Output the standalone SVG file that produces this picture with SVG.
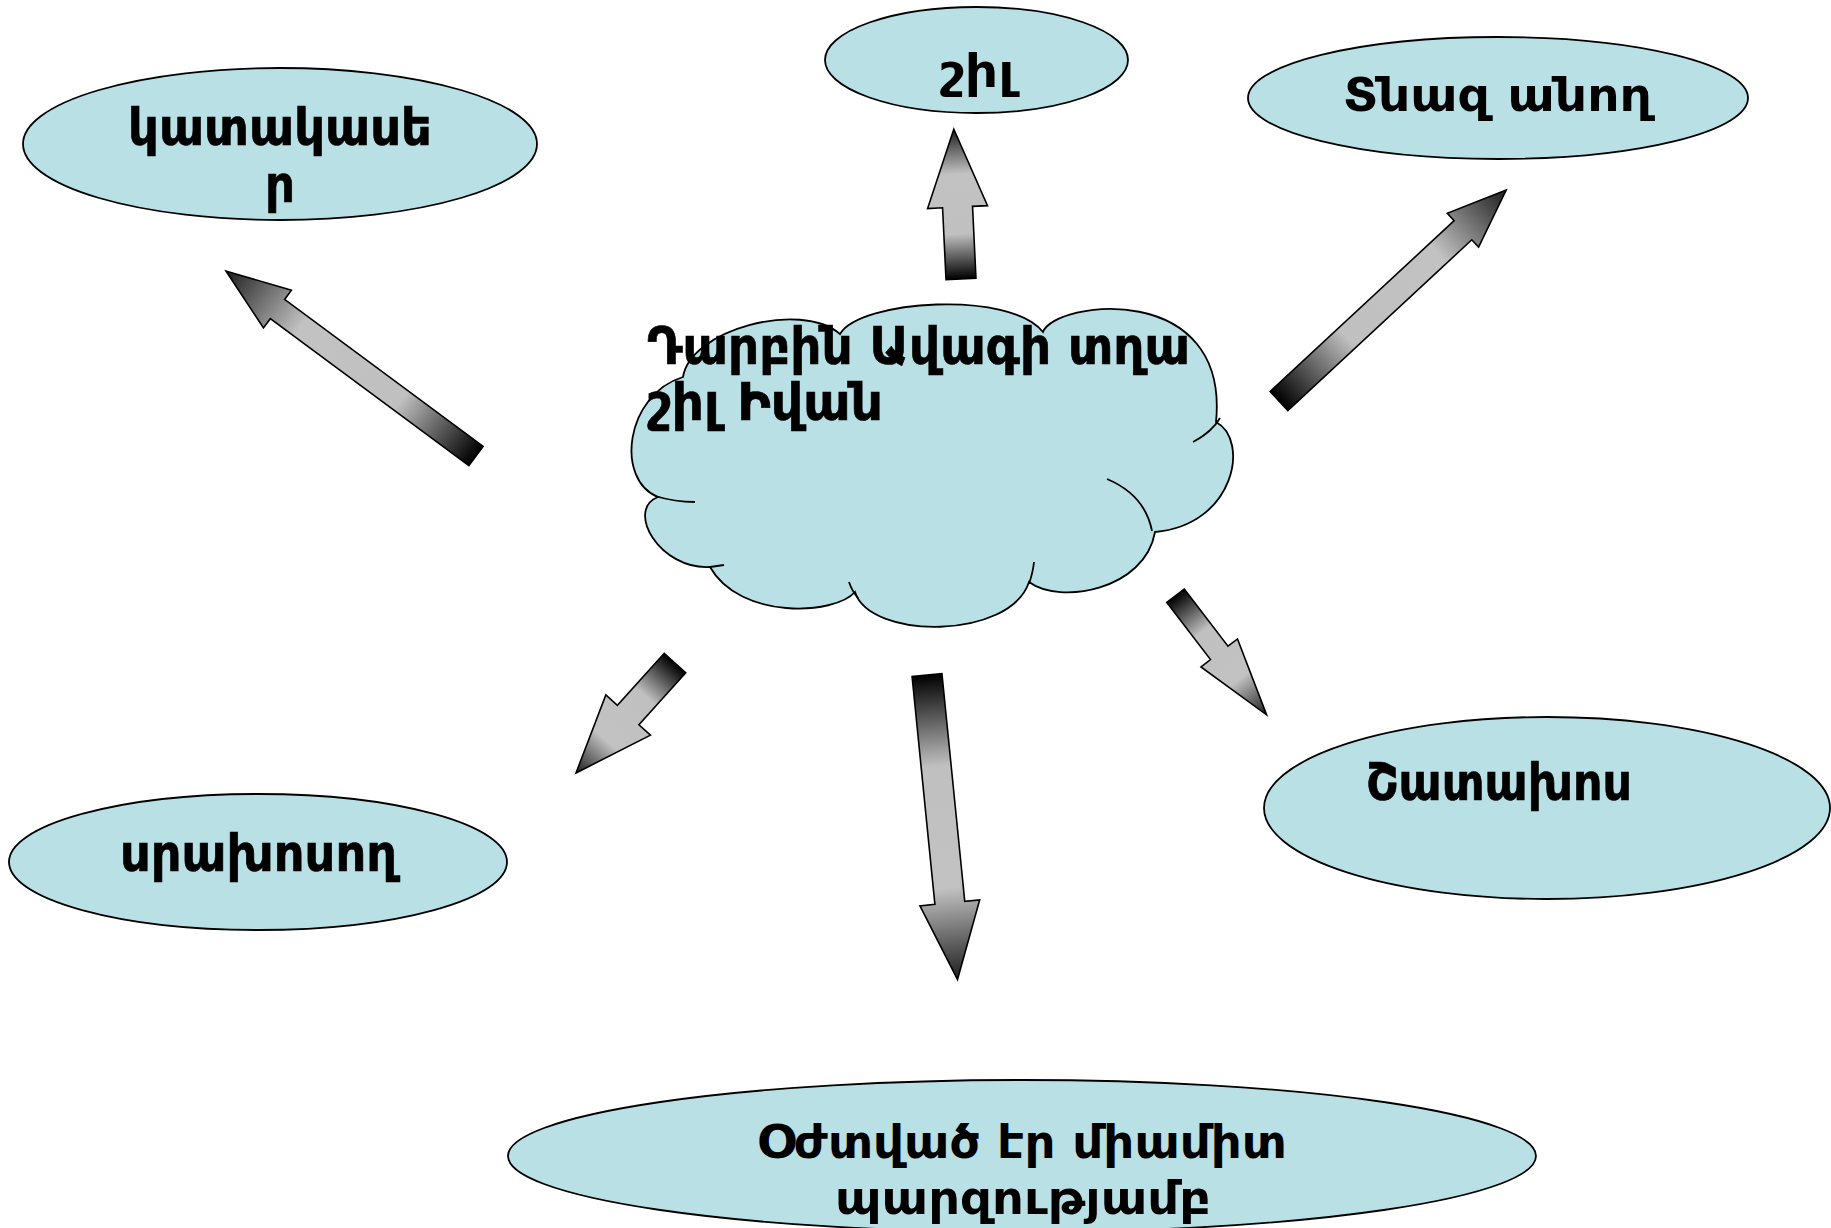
<svg xmlns="http://www.w3.org/2000/svg" width="1831" height="1228" viewBox="0 0 1831 1228">
<defs>
<linearGradient id="ag" x1="0" y1="0" x2="1" y2="0">
<stop offset="0" stop-color="#000"/>
<stop offset="0.3" stop-color="#c0c0c0"/>
<stop offset="0.7" stop-color="#c2c2c2"/>
<stop offset="1" stop-color="#1e1e1e"/>
</linearGradient>
</defs>
<style>
.shape{fill:#b9e0e4;stroke:#000;stroke-width:1.8}
.crease{fill:none;stroke:#000;stroke-width:1.8}
.arrow{fill:url(#ag);stroke:#000;stroke-width:1.6;stroke-linejoin:miter}
.tw{font-family:"DejaVu Sans",sans-serif;font-weight:bold;font-size:47px;fill:#000}
.tc{font-family:"DejaVu Sans Condensed","DejaVu Sans",sans-serif;font-stretch:condensed;font-weight:bold;font-size:52px;fill:#000;stroke:#000;stroke-width:0.6}
</style>
<rect width="1831" height="1228" fill="#fff"/>
<g id="connectors">
<path class="arrow" transform="translate(476,456) rotate(-143.5)" d="M0,-12 L247,-12 L247,-23.5 L311,0 L247,23.5 L247,12 L0,12 Z"/>
<path class="arrow" transform="translate(961,279) rotate(-92.75)" d="M0,-15 L72,-15 L72,-30 L150,0 L72,30 L72,15 L0,15 Z"/>
<path class="arrow" transform="translate(1279,401) rotate(-42.87)" d="M0,-13 L251,-13 L251,-23 L310,0 L251,23 L251,13 L0,13 Z"/>
<path class="arrow" transform="translate(1175.5,595.7) rotate(52.6)" d="M0,-11 L72,-11 L72,-23 L150,0 L72,23 L72,11 L0,11 Z"/>
<path class="arrow" transform="translate(675,663) rotate(132)" d="M0,-14.5 L70,-14.5 L70,-30 L148,0 L70,30 L70,14.5 L0,14.5 Z"/>
<path class="arrow" transform="translate(927,675) rotate(84.28)" d="M0,-15 L229,-15 L229,-30 L306,0 L229,30 L229,15 L0,15 Z"/>
</g>
<g id="center">
<path class="shape" d="M683,377 C690,330 800,300 840,334 C860,300 1010,290 1043,332 C1055,300 1230,280 1216,422 C1250,440 1235,525 1155,532 C1145,590 1060,605 1029,582 C1010,640 870,640 855,592 C835,615 740,620 710,567 C660,570 625,510 658,497 C615,480 625,395 683,377 Z"/>
<path class="crease" d="M1220,418 Q1212,432 1193,442"/>
<path class="crease" d="M1107,479 Q1145,495 1152,531"/>
<path class="crease" d="M1034,562 Q1033,572 1029,584"/>
<path class="crease" d="M849,582 Q852,591 858,598"/>
<path class="crease" d="M710,567 L724,565"/>
<path class="crease" d="M655,496 Q675,502 695,502"/>
<text class="tc" x="647" y="364" textLength="543" lengthAdjust="spacingAndGlyphs">Դարբին Ավագի տղա</text>
<text class="tc" x="647" y="420" textLength="236" lengthAdjust="spacingAndGlyphs">շիլ Իվան</text>
</g>
<g id="node-katakaser">
<ellipse class="shape" cx="280" cy="144" rx="257" ry="76"/>
<text class="tc" x="280" y="145" text-anchor="middle" textLength="304" lengthAdjust="spacingAndGlyphs">կատակասե</text>
<text class="tc" x="280" y="202" text-anchor="middle">ր</text>
</g>
<g id="node-shil">
<ellipse class="shape" cx="976.5" cy="60" rx="151.5" ry="53"/>
<text class="tw" x="977" y="87" text-anchor="middle" font-size="54" textLength="75" lengthAdjust="spacingAndGlyphs">շիլ</text>
</g>
<g id="node-tnaz">
<ellipse class="shape" cx="1498" cy="98" rx="250" ry="61"/>
<text class="tw" x="1343" y="111" textLength="309" lengthAdjust="spacingAndGlyphs">Տնազ անող</text>
</g>
<g id="node-shataxos">
<ellipse class="shape" cx="1547" cy="808" rx="283" ry="91"/>
<text class="tc" x="1366" y="800" textLength="266" lengthAdjust="spacingAndGlyphs">Շատախոս</text>
</g>
<g id="node-srakhosogh">
<ellipse class="shape" cx="258" cy="862" rx="249" ry="68"/>
<text class="tc" x="120" y="871" textLength="277" lengthAdjust="spacingAndGlyphs">սրախոսող</text>
</g>
<g id="node-ozhtvats">
<ellipse class="shape" cx="1022" cy="1156" rx="514" ry="76"/>
<text class="tw" x="757" y="1158" textLength="530" lengthAdjust="spacingAndGlyphs">Օժտված էր միամիտ</text>
<text class="tw" x="835" y="1214" textLength="376" lengthAdjust="spacingAndGlyphs">պարզությամբ</text>
</g>
</svg>
